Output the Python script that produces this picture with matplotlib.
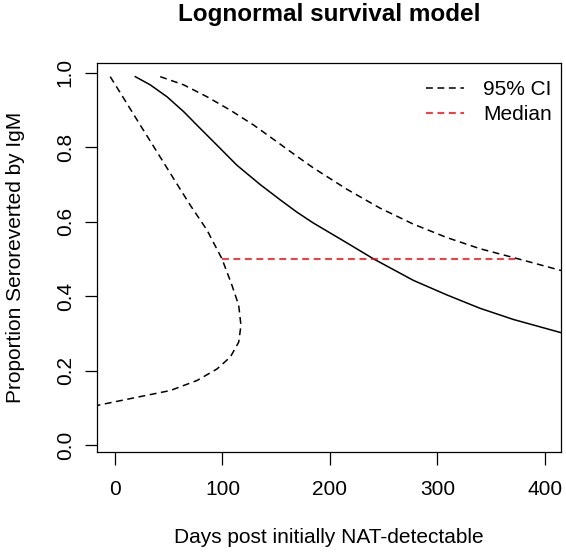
import matplotlib
matplotlib.use("Agg")
import matplotlib.pyplot as plt

plt.rcParams['font.family'] = ['Liberation Sans', 'DejaVu Sans']

# Median survival curve
med_days = [18.9, 32.8, 48.4, 63.9, 79.3, 94.9, 113.5, 135.2, 153.8, 169.3, 184.5, 215.5, 240.3, 277.5, 308.6, 339.5, 370.5, 415.5]
med_prop = [0.990, 0.968, 0.936, 0.896, 0.851, 0.806, 0.752, 0.700, 0.659, 0.626, 0.597, 0.544, 0.501, 0.443, 0.404, 0.368, 0.338, 0.302]

# Upper 95% CI
up_days = [42.1, 63.9, 85.6, 107.3, 129.0, 150.7, 169.3, 184.5, 215.5, 246.5, 277.5, 308.6, 339.5, 376.0, 415.5]
up_prop = [0.990, 0.968, 0.936, 0.900, 0.860, 0.815, 0.776, 0.745, 0.688, 0.637, 0.594, 0.558, 0.528, 0.500, 0.469]

# Lower 95% CI (bends back)
lo_days = [-4.4, 8.1, 23.5, 39.1, 54.6, 70.0, 85.6, 99.5, 108.8, 115.1, 117.2, 115.1, 107.3, 94.9, 76.3, 51.4, 20.5, -16.7, -20.0]
lo_prop = [0.990, 0.932, 0.860, 0.788, 0.716, 0.645, 0.578, 0.501, 0.430, 0.376, 0.322, 0.277, 0.237, 0.205, 0.174, 0.147, 0.129, 0.107, 0.106]

# Median line
median_days = [99.5, 376.0]
median_prop = [0.5, 0.5]

x_ticks = [0, 100, 200, 300, 400]
y_ticks = [0.0, 0.2, 0.4, 0.6, 0.8, 1.0]
y_ticklabels = ["0.0", "0.2", "0.4", "0.6", "0.8", "1.0"]

fig = plt.figure(figsize=(5.66, 5.54), dpi=100)
ax = fig.add_axes([97/566, 1-452/554, (561-97)/566, (452-62.5)/554])

dash = (0, (4.5, 3))
ax.plot(med_days, med_prop, color='black', lw=1.1, solid_joinstyle='round')
l1, = ax.plot(up_days, up_prop, color='black', lw=1.1, linestyle=dash)
ax.plot(lo_days, lo_prop, color='black', lw=1.1, linestyle=dash)
l2, = ax.plot(median_days, median_prop, color='red', lw=1.1, linestyle=dash)

ax.set_xlim(-16.7, 414.9)
ax.set_ylim(-0.018, 1.028)

ax.set_xticks(x_ticks)
ax.set_yticks(y_ticks)
ax.set_yticklabels(y_ticklabels, rotation=90, va='center')
ax.tick_params(axis='both', direction='out', length=9, width=0.9, labelsize=15, colors='black')
ax.tick_params(axis='x', pad=11)
ax.tick_params(axis='y', pad=7)
for s in ax.spines.values():
    s.set_linewidth(0.9)

ax.set_xlabel("Days post initially NAT-detectable", fontsize=15, labelpad=21)
ax.set_ylabel("Proportion Seroreverted by IgM", fontsize=15, labelpad=22)
ax.set_title("Lognormal survival model", fontsize=17.5, fontweight='bold', pad=30)

ax.legend([l1, l2], ["95% CI", "Median"], loc='upper right', bbox_to_anchor=(1.019, 1.0),
          frameon=False, fontsize=15, handlelength=1.8, handletextpad=0.95,
          labelspacing=0.3, borderaxespad=0.45, borderpad=0.4)

fig.savefig("out.png", dpi=100)
